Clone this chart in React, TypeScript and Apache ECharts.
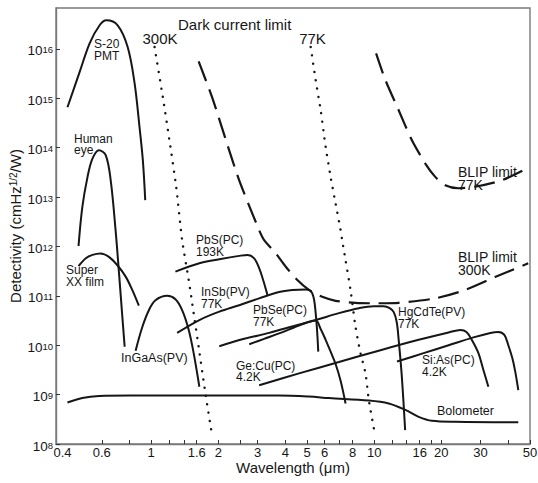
import React, { useEffect, useRef } from "react";
import * as echarts from "echarts";

// ---- axis ticks ----
const xTickValues = [0.6, 0.8, 1, 1.2, 1.4, 1.6, 2, 2.5, 3, 4, 5, 6, 7, 8, 10, 12, 14, 16, 18, 20, 30, 40, 50];
const xLabelValues = [0.4, 0.6, 1, 1.6, 2, 3, 4, 5, 6, 8, 10, 16, 20, 30, 50];
const yDecades = [8, 9, 10, 11, 12, 13, 14, 15, 16];

// ---- curves: wavelength (µm) and log10 detectivity (cmHz^1/2/W) ----
const s20Wl = [0.421, 0.478, 0.53, 0.587, 0.629, 0.707, 0.784, 0.842, 0.886, 0.917, 0.94];
const s20LogD = [14.82, 15.54, 16.12, 16.48, 16.58, 16.48, 16.04, 15.31, 14.42, 13.75, 12.94];

const eyeWl = [0.472, 0.491, 0.518, 0.545, 0.583, 0.625, 0.658, 0.692, 0.717, 0.742, 0.76];
const eyeLogD = [12.01, 12.8, 13.41, 13.78, 13.95, 13.85, 13.34, 12.33, 11.46, 10.58, 9.97];

const filmWl = [0.472, 0.509, 0.545, 0.593, 0.646, 0.705, 0.768, 0.822, 0.88];
const filmLogD = [11.6, 11.76, 11.83, 11.86, 11.79, 11.62, 11.39, 11.12, 10.8];

const ingaasWl = [0.851, 0.912, 0.976, 1.045, 1.179, 1.284, 1.376, 1.473, 1.55, 1.644];
const ingaasLogD = [9.89, 10.37, 10.71, 10.91, 11.0, 10.93, 10.71, 10.31, 9.84, 9.16];

const pbsWl = [1.284, 1.644, 2.02, 2.481, 2.703, 2.896, 3.049, 3.177, 3.32];
const pbsLogD = [11.49, 11.66, 11.74, 11.81, 11.83, 11.76, 11.56, 11.32, 11.02];

const insbWl = [1.307, 1.644, 2.02, 2.481, 3.049, 3.746, 4.295, 4.931, 5.278, 5.466, 5.614];
const insbLogD = [10.25, 10.51, 10.68, 10.81, 10.95, 11.08, 11.12, 11.13, 11.05, 10.65, 9.87];

const pbseWl = [2.751, 3.21, 3.746, 4.371, 4.931, 5.466, 5.754, 6.058, 6.377, 6.714, 7.07, 7.442];
const pbseLogD = [10.02, 10.13, 10.24, 10.36, 10.45, 10.5, 10.33, 10.11, 9.87, 9.62, 9.28, 8.82];

const hgcdteWl = [2.02, 2.613, 3.38, 4.371, 5.466, 6.947, 8.535, 9.96, 11.04, 11.74, 12.24, 12.62, 12.88, 13.29, 13.77];
const hgcdteLogD = [9.98, 10.13, 10.25, 10.39, 10.51, 10.65, 10.75, 10.79, 10.79, 10.75, 10.67, 10.47, 10.11, 9.4, 8.28];

const gecuWl = [3.049, 4.602, 6.947, 10.48, 15.83, 21.56, 24.39, 25.94, 27.39, 29.35, 30.9, 32.53];
const gecuLogD = [9.19, 9.43, 9.66, 9.89, 10.11, 10.26, 10.31, 10.27, 10.11, 9.84, 9.5, 9.16];

const siasWl = [12.66, 16.66, 21.56, 27.88, 33.2, 36.06, 38.36, 39.97, 41.65, 42.95, 44.31];
const siasLogD = [9.67, 9.84, 10.0, 10.16, 10.25, 10.27, 10.21, 10.0, 9.74, 9.46, 9.09];

const bolometerWl = [0.421, 0.491, 0.583, 0.8, 1.644, 3.746, 5.102, 6.268, 9.46, 11.62, 13.8, 15.83, 18.15, 23.09, 44.31];
const bolometerLogD = [8.84, 8.93, 8.97, 8.98, 8.98, 8.98, 8.96, 8.93, 8.88, 8.82, 8.69, 8.55, 8.47, 8.45, 8.44];

const dark300Wl = [1.035, 1.127, 1.207, 1.294, 1.376, 1.473, 1.55, 1.632, 1.749, 1.874];
const dark300LogD = [16.04, 15.03, 14.15, 13.21, 12.13, 11.32, 10.65, 9.97, 9.03, 8.18];

const dark77Wl = [5.191, 5.466, 5.754, 6.058, 6.377, 6.714, 7.07, 7.186, 7.442, 7.834, 8.25, 8.685, 9.145, 9.46, 10.06];
const dark77LogD = [16.04, 15.37, 14.76, 14.02, 13.41, 12.87, 12.33, 12.13, 11.72, 11.12, 10.37, 9.84, 9.43, 8.89, 8.22];

const blip300Wl = [1.632, 1.886, 2.164, 2.481, 3.049, 3.21, 3.621, 4.013, 4.522, 5.102, 5.849, 6.714, 8.25, 10.13, 12.88, 18.79, 25.59, 34.85, 49.1];
const blip300LogD = [15.75, 14.99, 14.15, 13.34, 12.33, 12.13, 11.86, 11.59, 11.32, 11.12, 10.98, 10.9, 10.86, 10.85, 10.86, 10.95, 11.12, 11.38, 11.66];

const blip77Wl = [10.2, 11.23, 12.88, 14.77, 16.96, 18.79, 20.83, 23.89, 28.37, 37.3, 48.27];
const blip77LogD = [15.91, 15.37, 14.76, 14.15, 13.68, 13.41, 13.24, 13.18, 13.21, 13.34, 13.58];

const FONT = '"Liberation Sans", Arial, Helvetica, sans-serif';
const INK = "#161616";
const FRAME = "#7a7a7a";

type Kind = "solid" | "dotted" | "dashed";

function curve(name: string, wl: number[], logD: number[], kind: Kind) {
  const lineStyle: any = { color: INK, width: 2 };
  if (kind === "dotted") {
    lineStyle.type = [0.1, 8.3];
    lineStyle.cap = "round";
    lineStyle.width = 2.4;
  } else if (kind === "dashed") {
    lineStyle.type = [21, 9];
    lineStyle.width = 2.2;
  }
  return {
    type: "line",
    name,
    data: wl.map((w, i) => [Math.log10(w), logD[i]]),
    symbol: "none",
    showSymbol: false,
    smooth: kind === "solid" ? 0.35 : 0.25,
    lineStyle,
    silent: true,
    z: 3,
  };
}

// one text element per line, stacked by lh
function label(text: string, x: number, capY: number, size: number, lh: number, align: string = "left") {
  return text.split("\n").map((line, i) => ({
    type: "text",
    x,
    y: capY + i * lh,
    silent: true,
    z: 10,
    style: {
      text: line,
      fill: INK,
      fontSize: size,
      fontFamily: FONT,
      align,
      verticalAlign: "middle",
    },
  }));
}

export default function App() {
  const ref = useRef<HTMLDivElement>(null);

  useEffect(() => {
    if (!ref.current) return;
    const chart = echarts.init(ref.current, undefined, { renderer: "svg" });
    const xmin = Math.log10(0.374);
    const xmax = Math.log10(50);
    const fmtX = (v: number) => String(parseFloat(Math.pow(10, v).toPrecision(2)));

    chart.setOption({
      animation: false,
      backgroundColor: "#ffffff",
      grid: {
        left: 56,
        right: 8,
        top: 8,
        bottom: 39,
        show: true,
        borderColor: FRAME,
        borderWidth: 1.4,
        outerBoundsMode: "none",
        containLabel: false,
      },
      xAxis: {
        type: "value",
        min: xmin,
        max: xmax,
        name: "Wavelength (μm)",
        nameLocation: "middle",
        nameGap: 16,
        nameMoveOverlap: false,
        nameTextStyle: { fontSize: 15, fontFamily: FONT, color: INK, verticalAlign: "top" },
        axisLine: { show: true, onZero: false, lineStyle: { color: FRAME, width: 1.4 } },
        axisTick: {
          show: true,
          inside: true,
          length: 4,
          lineStyle: { color: "#333", width: 1 },
          customValues: xTickValues.map((v) => Math.log10(v)),
        },
        axisLabel: {
          show: true,
          margin: 2,
          fontSize: 13,
          fontFamily: FONT,
          color: INK,
          customValues: xLabelValues.map((v) => Math.log10(v)),
          formatter: fmtX,
        },
        splitLine: { show: false },
      },
      yAxis: {
        type: "value",
        min: 8,
        max: 16.83,
        name: "Detectivity (cmHz{sup|1/2}/W)",
        nameLocation: "middle",
        nameRotate: 90,
        nameGap: 33,
        nameMoveOverlap: false,
        nameTextStyle: {
          fontSize: 15,
          fontFamily: FONT,
          color: INK,
          rich: {
            sup: { fontSize: 10, fontFamily: FONT, color: INK, verticalAlign: "top", lineHeight: 10, padding: [0, 0, 6, 0] },
          },
        },
        axisLine: { show: true, onZero: false, lineStyle: { color: FRAME, width: 1.4 } },
        axisTick: {
          show: true,
          inside: true,
          length: 4,
          lineStyle: { color: "#333", width: 1 },
          customValues: yDecades,
        },
        axisLabel: {
          show: true,
          margin: 3,
          color: INK,
          fontFamily: FONT,
          customValues: yDecades,
          padding: [5, 0, 0, 0],
          formatter: (v: number) => `{b|10}{s|${Math.round(v)}}`,
          rich: {
            b: { fontSize: 13.5, fontFamily: FONT, color: INK, lineHeight: 13, verticalAlign: "bottom" },
            s: { fontSize: 9.5, fontFamily: FONT, color: INK, lineHeight: 9, verticalAlign: "top", padding: [0, 0, 10, 0] },
          },
        },
        splitLine: { show: false },
      },
      series: [
        curve("S-20 PMT", s20Wl, s20LogD, "solid"),
        curve("Human eye", eyeWl, eyeLogD, "solid"),
        curve("Super XX film", filmWl, filmLogD, "solid"),
        curve("InGaAs(PV)", ingaasWl, ingaasLogD, "solid"),
        curve("PbS(PC) 193K", pbsWl, pbsLogD, "solid"),
        curve("InSb(PV) 77K", insbWl, insbLogD, "solid"),
        curve("PbSe(PC) 77K", pbseWl, pbseLogD, "solid"),
        curve("HgCdTe(PV) 77K", hgcdteWl, hgcdteLogD, "solid"),
        curve("Ge:Cu(PC) 4.2K", gecuWl, gecuLogD, "solid"),
        curve("Si:As(PC) 4.2K", siasWl, siasLogD, "solid"),
        curve("Bolometer", bolometerWl, bolometerLogD, "solid"),
        curve("Dark current limit 300K", dark300Wl, dark300LogD, "dotted"),
        curve("Dark current limit 77K", dark77Wl, dark77LogD, "dotted"),
        curve("BLIP limit 300K", blip300Wl, blip300LogD, "dashed"),
        curve("BLIP limit 77K", blip77Wl, blip77LogD, "dashed"),
      ],
      graphic: [
        ...label("Dark current limit", 178, 24, 15, 15),
        ...label("300K", 160, 38, 15, 15, "center"),
        ...label("77K", 312.5, 38, 15, 15, "center"),
        ...label("BLIP limit\n77K", 458, 172, 14, 13),
        ...label("BLIP limit\n300K", 458, 257, 14, 13),
        ...label("S-20\nPMT", 94, 44, 12, 11.5),
        ...label("Human\neye", 74, 138.5, 12, 11.5),
        ...label("Super\nXX film", 66, 270, 12, 12),
        ...label("InGaAs(PV)", 121, 358, 12.5, 12.5),
        ...label("PbS(PC)\n193K", 196, 240, 12, 11.5),
        ...label("InSb(PV)\n77K", 201, 292, 12, 11.5),
        ...label("PbSe(PC)\n77K", 253, 310, 12, 11.5),
        ...label("Ge:Cu(PC)\n4.2K", 236, 365.5, 12, 11.5),
        ...label("HgCdTe(PV)\n77K", 398, 312, 12, 11.5),
        ...label("Si:As(PC)\n4.2K", 422, 360, 12, 11.5),
        ...label("Bolometer", 437, 411, 12.5, 12.5),
      ],
    });
    return () => chart.dispose();
  }, []);

  return (
    <div
      ref={ref}
      style={{ position: "fixed", left: 0, top: 0, width: 538, height: 483, background: "#ffffff" }}
    />
  );
}
